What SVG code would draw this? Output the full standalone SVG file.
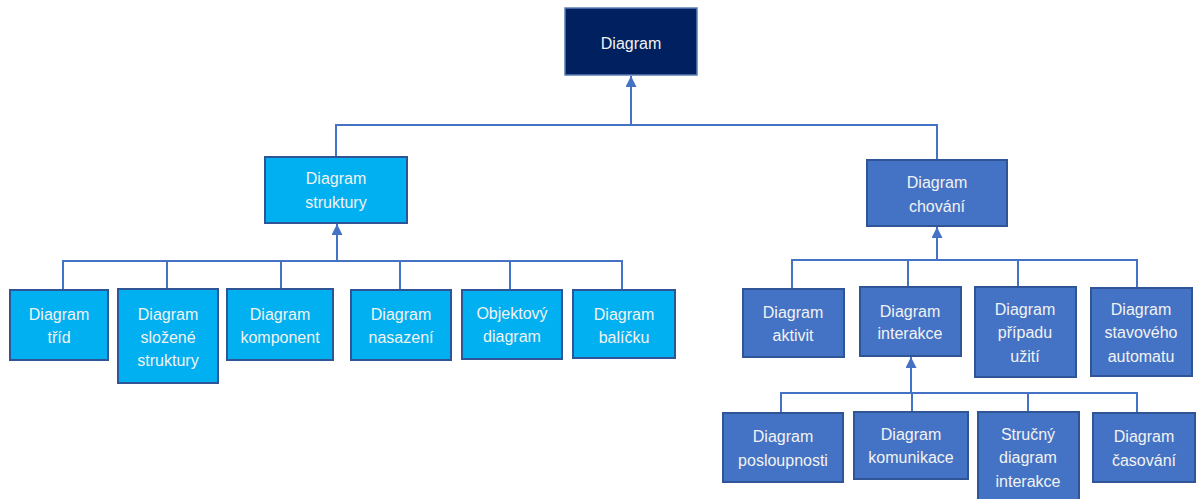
<svg xmlns="http://www.w3.org/2000/svg" width="1200" height="499" viewBox="0 0 1200 499">
  <style>
    .root { fill: #002060; stroke: #5B7DB5; stroke-width: 1.5; }
    .struct { fill: #00B0F0; stroke: #2F5597; stroke-width: 2; }
    .behav { fill: #4472C4; stroke: #2F5597; stroke-width: 2; }
    .label { font-family: "Liberation Sans", Arial, sans-serif; font-size: 16px; fill: #F2F2F2; text-anchor: middle; }
    .wire { fill: none; stroke: #4472C4; stroke-width: 2; }
  </style>
  <defs>
    <marker id="tri" viewBox="0 0 10 10" refX="10" refY="5" markerWidth="5.5" markerHeight="5.5" orient="auto" markerUnits="strokeWidth">
      <path d="M0,0 L10,5 L0,10 Z" fill="#4472C4"/>
    </marker>
  </defs>

  <!-- connectors -->
  <g id="connectors" class="wire">
    <!-- root level -->
    <path d="M631,125 V76" marker-end="url(#tri)"/>
    <path d="M336,157 V125 H937 V160"/>
    <!-- structure branch -->
    <path d="M337,261 V224" marker-end="url(#tri)"/>
    <path d="M63,290 V261 H622 V290"/>
    <path d="M167,289 V261"/>
    <path d="M281,289 V261"/>
    <path d="M400,290 V261"/>
    <path d="M510,290 V261"/>
    <!-- behaviour branch -->
    <path d="M937,260 V227" marker-end="url(#tri)"/>
    <path d="M792,289 V260 H1137 V288"/>
    <path d="M908,287 V260"/>
    <path d="M1018,287 V260"/>
    <!-- interaction branch -->
    <path d="M911,393 V357" marker-end="url(#tri)"/>
    <path d="M781,413 V393 H1137 V413"/>
    <path d="M912,412 V393"/>
    <path d="M1028,412 V393"/>
  </g>

  <!-- root -->
  <g id="n-diagram">
    <rect class="root" x="565" y="8" width="132" height="67"/>
    <text class="label" x="631" y="49">Diagram</text>
  </g>

  <!-- structure diagrams -->
  <g id="n-struktury">
    <rect class="struct" x="265" y="157" width="142" height="66"/>
    <text class="label" x="336" y="184">Diagram</text>
    <text class="label" x="336" y="208">struktury</text>
  </g>
  <g id="n-trid">
    <rect class="struct" x="10" y="290" width="98" height="70"/>
    <text class="label" x="59" y="320">Diagram</text>
    <text class="label" x="59" y="343">tříd</text>
  </g>
  <g id="n-slozene">
    <rect class="struct" x="118" y="289" width="100" height="94"/>
    <text class="label" x="168" y="320">Diagram</text>
    <text class="label" x="168" y="343">složené</text>
    <text class="label" x="168" y="366">struktury</text>
  </g>
  <g id="n-komponent">
    <rect class="struct" x="227" y="289" width="106" height="71"/>
    <text class="label" x="280" y="320">Diagram</text>
    <text class="label" x="280" y="343">komponent</text>
  </g>
  <g id="n-nasazeni">
    <rect class="struct" x="351" y="290" width="100" height="70"/>
    <text class="label" x="401" y="320">Diagram</text>
    <text class="label" x="401" y="343">nasazení</text>
  </g>
  <g id="n-objektovy">
    <rect class="struct" x="462" y="290" width="100" height="69"/>
    <text class="label" x="512" y="319">Objektový</text>
    <text class="label" x="512" y="342">diagram</text>
  </g>
  <g id="n-balicku">
    <rect class="struct" x="573" y="290" width="102" height="68"/>
    <text class="label" x="624" y="320">Diagram</text>
    <text class="label" x="624" y="343">balíčku</text>
  </g>

  <!-- behaviour diagrams -->
  <g id="n-chovani">
    <rect class="behav" x="867" y="160" width="140" height="66"/>
    <text class="label" x="937" y="188">Diagram</text>
    <text class="label" x="937" y="212">chování</text>
  </g>
  <g id="n-aktivit">
    <rect class="behav" x="743" y="289" width="101" height="68"/>
    <text class="label" x="793" y="318">Diagram</text>
    <text class="label" x="793" y="341">aktivit</text>
  </g>
  <g id="n-interakce">
    <rect class="behav" x="860" y="287" width="101" height="69"/>
    <text class="label" x="910" y="317">Diagram</text>
    <text class="label" x="910" y="339">interakce</text>
  </g>
  <g id="n-pripadu">
    <rect class="behav" x="975" y="287" width="101" height="90"/>
    <text class="label" x="1025" y="315">Diagram</text>
    <text class="label" x="1025" y="338">případu</text>
    <text class="label" x="1025" y="362">užití</text>
  </g>
  <g id="n-stavoveho">
    <rect class="behav" x="1091" y="288" width="101" height="88"/>
    <text class="label" x="1141" y="315">Diagram</text>
    <text class="label" x="1141" y="338">stavového</text>
    <text class="label" x="1141" y="362">automatu</text>
  </g>

  <!-- interaction diagrams -->
  <g id="n-posloupnosti">
    <rect class="behav" x="723" y="413" width="120" height="69"/>
    <text class="label" x="783" y="442">Diagram</text>
    <text class="label" x="783" y="466">posloupnosti</text>
  </g>
  <g id="n-komunikace">
    <rect class="behav" x="854" y="412" width="114" height="67"/>
    <text class="label" x="911" y="440">Diagram</text>
    <text class="label" x="911" y="463">komunikace</text>
  </g>
  <g id="n-strucny">
    <rect class="behav" x="978" y="412" width="101" height="88"/>
    <text class="label" x="1028" y="440">Stručný</text>
    <text class="label" x="1028" y="463">diagram</text>
    <text class="label" x="1028" y="487">interakce</text>
  </g>
  <g id="n-casovani">
    <rect class="behav" x="1093" y="413" width="102" height="69"/>
    <text class="label" x="1144" y="442">Diagram</text>
    <text class="label" x="1144" y="466">časování</text>
  </g>
</svg>
